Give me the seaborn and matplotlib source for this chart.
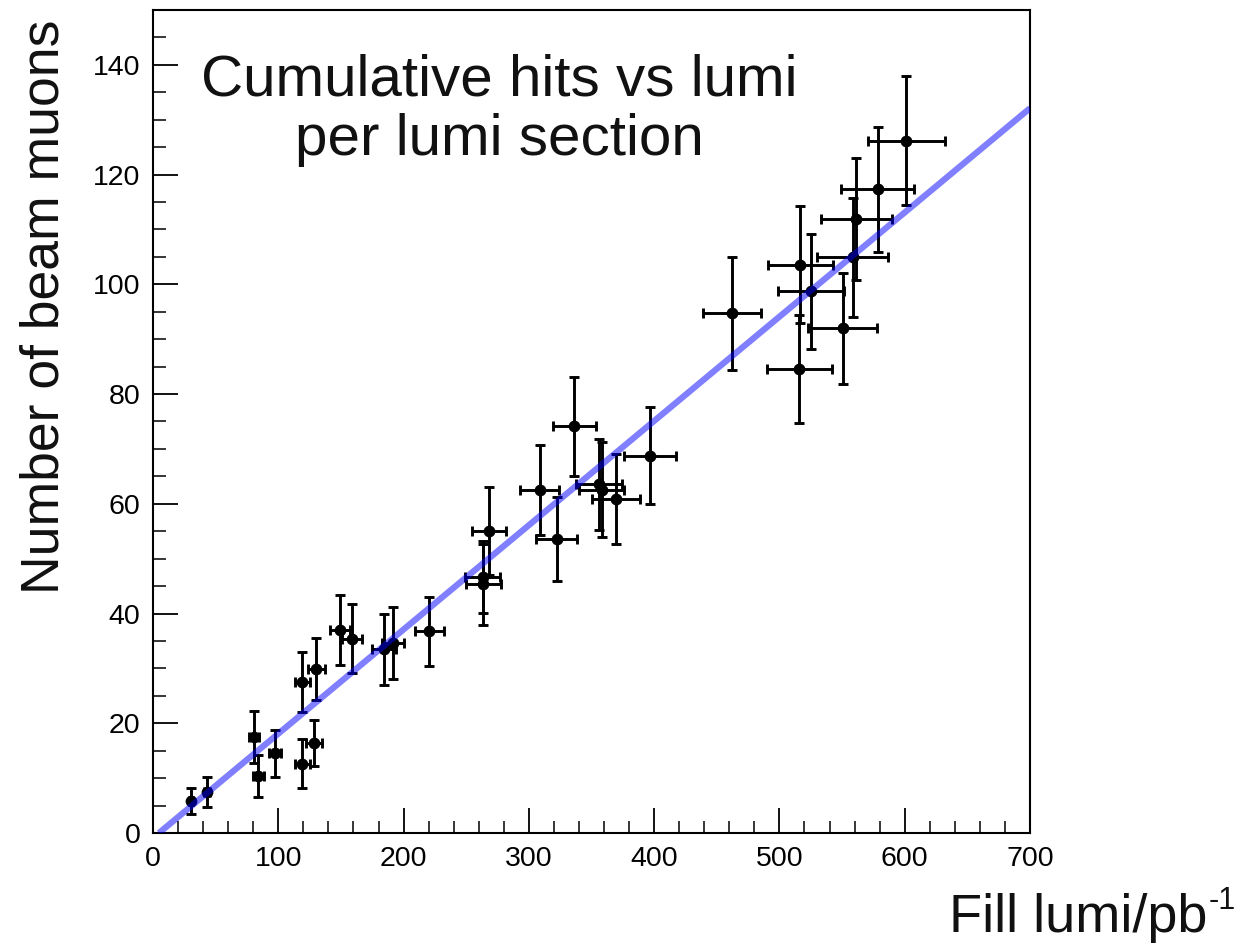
import numpy as np
import pandas as pd
import matplotlib
matplotlib.use("Agg")
import matplotlib.pyplot as plt
import seaborn as sns

# ---- data ----
fill_lumi = [30.3, 43.0, 80.5, 84.0, 97.3, 119.3, 119.3, 128.6, 130.5, 149.3, 159.2,
             184.4, 191.6, 220.6, 263.1, 263.6, 268.4, 308.8, 322.2, 336.4, 356.1,
             358.0, 369.7, 396.5, 462.2, 516.6, 515.8, 525.4, 550.4, 558.6, 561.3,
             578.3, 601.1]
beam_muons = [5.8, 7.5, 17.5, 10.4, 14.5, 12.65, 27.5, 16.4, 29.8, 37.0, 35.4,
              33.5, 34.6, 36.8, 46.7, 45.3, 55.0, 62.6, 53.5, 74.1, 63.6,
              62.6, 60.9, 68.8, 94.7, 103.6, 84.6, 98.7, 92.0, 104.9, 111.9,
              117.3, 126.2]
muons_err = [2.4, 2.7, 4.7, 3.9, 4.25, 4.4, 5.4, 4.25, 5.65, 6.3, 6.3,
             6.45, 6.5, 6.3, 6.6, 7.3, 8.0, 8.2, 7.65, 9.1, 8.3,
             8.6, 8.2, 8.85, 10.3, 10.7, 9.85, 10.4, 10.15, 10.8, 11.1,
             11.35, 11.7]
lumi_err = [1.5, 2.2, 4.0, 4.2, 4.9, 6.0, 6.0, 6.4, 6.5, 8.0, 8.0,
            9.3, 8.6, 11.6, 14.0, 14.0, 13.6, 15.5, 16.6, 17.3, 18.3,
            18.0, 19.0, 20.6, 23.3, 25.9, 26.0, 26.4, 27.5, 28.3, 28.3,
            29.0, 30.8]
fit_slope = 0.190
fit_intercept = -0.9
x_range = [0, 700]
y_range = [0, 150]
x_ticks = [0, 100, 200, 300, 400, 500, 600, 700]
y_ticks = [0, 20, 40, 60, 80, 100, 120, 140]
title_lines = ["Cumulative hits vs lumi", "per lumi section"]

# ---- style ----
sns.set_theme(style="ticks")
plt.rcParams['font.family'] = ['Liberation Sans', 'DejaVu Sans']

fig = plt.figure(figsize=(12.47, 9.46), dpi=100)
fig.patch.set_facecolor('white')
ax = fig.add_axes([153/1247, 113/946, (1030-153)/1247, (833-10)/946])
ax.set_facecolor('white')

df = pd.DataFrame({"lumi": fill_lumi, "muons": beam_muons})

ax.errorbar(fill_lumi, beam_muons, xerr=lumi_err, yerr=muons_err, fmt='none',
            ecolor='black', elinewidth=2.1, capsize=3.8, capthick=2.1, zorder=2)
sns.scatterplot(data=df, x="lumi", y="muons", ax=ax, color='black', s=72,
                edgecolor='black', linewidth=0, zorder=3, legend=False)

x0 = -fit_intercept / fit_slope
fit_x = np.array([x0, x_range[1]])
fit_df = pd.DataFrame({"lumi": fit_x, "muons": fit_slope * fit_x + fit_intercept})
sns.lineplot(data=fit_df, x="lumi", y="muons", ax=ax, color=(0, 0, 1), alpha=0.5,
             linewidth=4.5, zorder=4, solid_capstyle='butt')

ax.set_xlim(*x_range)
ax.set_ylim(*y_range)
ax.set_xticks(x_ticks)
ax.set_yticks(y_ticks)
ax.set_xticks(np.arange(0, 701, 20), minor=True)
ax.set_yticks(np.arange(0, 151, 5), minor=True)
ax.tick_params(axis='both', which='major', direction='in', length=18, width=1.3,
               labelsize=20.5, colors='black', pad=9)
ax.tick_params(axis='both', which='minor', direction='in', length=9, width=1.3)
ax.tick_params(top=False, right=False, which='both')
for sp in ax.spines.values():
    sp.set_color('black')
    sp.set_linewidth(1.5)
    sp.set_visible(True)
ax.set_xlabel("")
ax.set_ylabel("")

ax.text(0.3945, 0.8785, "\n".join(title_lines), transform=ax.transAxes,
        ha='center', va='center', fontsize=42, linespacing=1.12, color='#111111')

fig.text(0.036, (946-20)/946, "Number of beam muons", rotation=90,
         ha='center', va='top', fontsize=38.5, color='#111111')

# x label with a small hyphen superscript, as in the reference
sup_txt = fig.text(1236/1247, 37/946, "-1", ha='right', va='baseline',
                   fontsize=22, color='#111111')
fig.canvas.draw()
bb = sup_txt.get_window_extent()
main_x = (bb.x0 - 1) / fig.bbox.width
fig.text(main_x, 14/946, "Fill lumi/pb", ha='right', va='baseline',
         fontsize=39, color='#111111')

fig.savefig("out.png", dpi=100, facecolor='white')
